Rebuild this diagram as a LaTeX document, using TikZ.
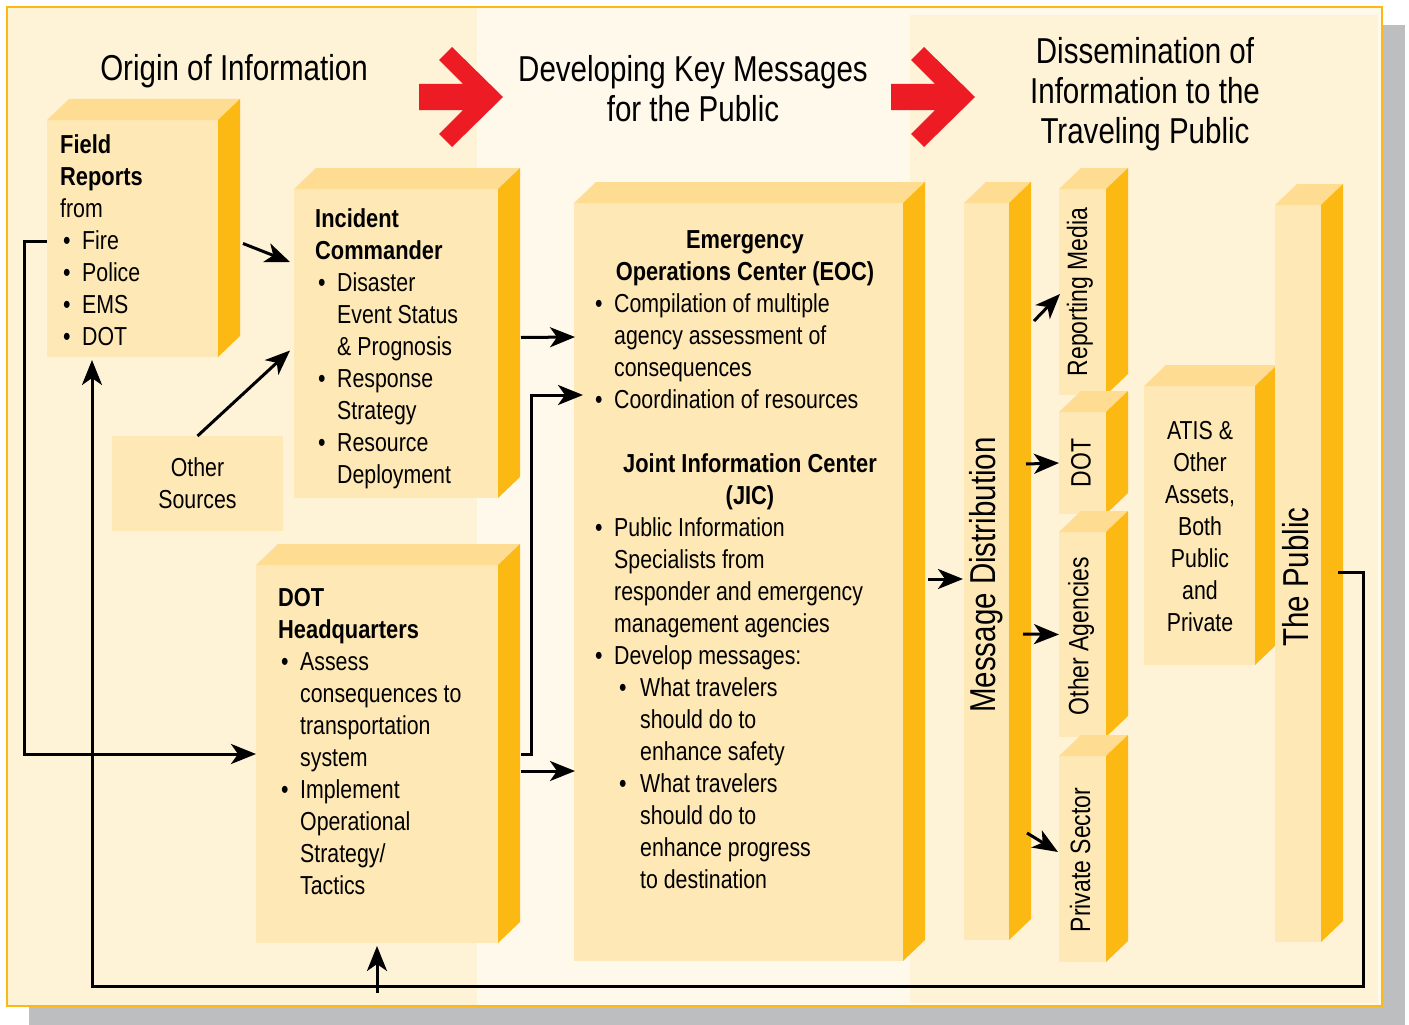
\documentclass[tikz,border=0pt]{standalone}
\usepackage{fontspec}
\setmainfont{Liberation Sans}[FakeStretch=0.82, BoldFeatures={FakeStretch=0.84}]
\usetikzlibrary{arrows.meta}

\definecolor{panel}{HTML}{FEF2D7}
\definecolor{midpanel}{HTML}{FFF9EC}
\definecolor{face}{HTML}{FEE8B5}
\definecolor{lid}{HTML}{FEDC92}
\definecolor{flank}{HTML}{FDB913}
\definecolor{shadowgray}{HTML}{BCBEC0}
\definecolor{signal}{HTML}{ED1C24}

% bullets with hanging indent
\newcommand{\bul}{\makebox[22pt][l]{\hspace{3pt}\textbullet}}
\newcommand{\ind}{\hspace*{22pt}}
\newcommand{\sbul}{\hspace*{22pt}\makebox[26pt][l]{\hspace{5pt}\textbullet}}
\newcommand{\sind}{\hspace*{48pt}}

% front face as a node, then lid and flank from its anchors
\newcommand{\slab}[5]{%
  \node[front, minimum width=#4pt, minimum height=#5pt] (#1) at (#2,#3) {};
  \fill[lid] (#1.north west) -- ++(22,-21) -- ([shift={(22,-21)}]#1.north east) -- (#1.north east) -- cycle;
  \fill[flank] (#1.north east) -- ++(22,-21) -- ([shift={(22,-21)}]#1.south east) -- (#1.south east) -- cycle;
}

\begin{document}
\begin{tikzpicture}[
  x=1pt, y=-1pt,
  front/.style={anchor=north west, fill=face, inner sep=0pt, outer sep=0pt},
  txt/.style={anchor=north west, inner sep=0pt, align=left, font=\fontsize{26}{32}\selectfont},
  hdr/.style={anchor=north, inner sep=0pt, align=center, font=\bfseries\fontsize{26}{32}\selectfont},
  title/.style={inner sep=0pt, align=center, font=\fontsize{36}{40}\selectfont},
  vlabel/.style={rotate=90, inner sep=0pt, font=\fontsize{28}{32}\selectfont},
  vbig/.style={rotate=90, inner sep=0pt, font=\fontsize{36}{40}\selectfont},
  arr/.style={-{Stealth[length=25pt, width=20pt, inset=7pt]}, line width=3pt}
]
\useasboundingbox (0,0) rectangle (1409,1025);

% frame, shadow and the three bands
\fill[shadowgray] (29,25) rectangle (1405,1025);
\fill[midpanel] (7,7) rectangle (1382,1006);
\fill[panel] (7,7) rectangle (477,1006);
\fill[panel] (910,15) rectangle (1378,1003);
\draw[flank, line width=2.5pt] (7,7) rectangle (1382,1006);

% red chevron arrows between the bands
\foreach \dx in {0,472}
  \fill[signal, shift={(\dx,0)}] (419,84) -- (463,84) -- (439,60) -- (452,47) -- (503,97)
    -- (452,147) -- (439,134) -- (463,110) -- (419,110) -- cycle;

\node[title] (origin) at (234,71) {Origin of Information};
\node[title] (develop) at (693,89) {Developing Key Messages\\for the Public};
\node[title] (dissem) at (1145,94) {Dissemination of\\Information to the\\Traveling Public};

% boxes
\slab{field}{47}{120}{171}{237}
\slab{incident}{294}{189}{204}{309}
\slab{dothq}{256}{565}{242}{378}
\slab{eoc}{574}{203}{329}{758}
\slab{msgdist}{964}{203}{45}{737}
\slab{media}{1059}{189}{47}{206}
\slab{dot}{1059}{412}{47}{102}
\slab{agencies}{1059}{532}{47}{205}
\slab{private}{1059}{756}{47}{206}
\slab{atis}{1144}{386}{111}{279}
\slab{public}{1275}{205}{46}{737}
\node[front, minimum width=171pt, minimum height=95pt, align=center,
  font=\fontsize{26}{32}\selectfont] (others) at (112,436) {Other\\Sources};

% box texts
\node[txt] (fieldtxt) at (60,134) {\textbf{Field}\\\textbf{Reports}\\from\\\bul Fire\\\bul Police\\\bul EMS\\\bul DOT};
\node[txt] (incidenttxt) at (315,208) {\textbf{Incident}\\\textbf{Commander}\\\bul Disaster\\\ind Event Status\\\ind \& Prognosis\\\bul Response\\\ind Strategy\\\bul Resource\\\ind Deployment};
\node[txt] (dothqtxt) at (278,588) {\textbf{DOT}\\\textbf{Headquarters}\\\bul Assess\\\ind consequences to\\\ind transportation\\\ind system\\\bul Implement\\\ind Operational\\\ind Strategy/\\\ind Tactics};
\node[hdr] (eochdr) at (745,230) {Emergency\\Operations Center (EOC)};
\node[txt] (eoctxt) at (592,293) {\bul Compilation of multiple\\\ind agency assessment of\\\ind consequences\\\bul Coordination of resources};
\node[hdr] (jichdr) at (750,453) {Joint Information Center\\(JIC)};
\node[txt] (jictxt) at (592,517) {\bul Public Information\\\ind Specialists from\\\ind responder and emergency\\\ind management agencies\\\bul Develop messages:\\\sbul What travelers\\\sind should do to\\\sind enhance safety\\\sbul What travelers\\\sind should do to\\\sind enhance progress\\\sind to destination};
\node[vbig] (msgdisttxt) at (986,575) {Message Distribution};
\node[vlabel] (mediatxt) at (1080,292) {Reporting Media};
\node[vlabel] (dottxt) at (1081,463) {DOT};
\node[vlabel] (agenciestxt) at (1081,636) {Other Agencies};
\node[vlabel] (privatetxt) at (1080,860) {Private Sector};
\node[txt, anchor=center, align=center] (atistxt) at (1200,527) {ATIS \&\\Other\\Assets,\\Both\\Public\\and\\Private};
\node[vbig] (publictxt) at (1296,577) {The Public};

% connectors
\draw[arr] ([shift={(25,5)}]field.east) -- ([shift={(-4,73)}]incident.north west);
\draw[arr] (others.north) -- ([shift={(-4,7)}]incident.west);
\draw[arr] ([shift={(23,-6)}]incident.east) -- ([shift={(1,134)}]eoc.north west);
\draw[arr] ([xshift=23pt]dothq.east) -- ++(10,0) |- ([shift={(9,192)}]eoc.north west);
\draw[arr] ([shift={(23,17)}]dothq.east) -- ([shift={(1,568)}]eoc.north west);
\draw[arr] ([shift={(0,2.5)}]field.west) -- ++(-23,0) |- (dothq.west);
\draw[arr] ([shift={(17,-1.5)}]public.east) -- ++(25,0) -- ++(0,414) -| ([shift={(45,3)}]field.south west);
\draw[arr] ([shift={(0,50)}]dothq.south) -- ([shift={(0,3)}]dothq.south);
\draw[arr] ([shift={(25,-3)}]eoc.east) -- ([shift={(-1,7.5)}]msgdist.west);
\draw[arr] ([shift={(25,118)}]msgdist.north east) -- ([shift={(1,2)}]media.west);
\draw[arr] ([shift={(17,261)}]msgdist.north east) -- (dot.west);
\draw[arr] ([shift={(14,431)}]msgdist.north east) -- (agencies.west);
\draw[arr] ([shift={(18,630)}]msgdist.north east) -- ([shift={(-1,-7)}]private.west);
\end{tikzpicture}
\end{document}
